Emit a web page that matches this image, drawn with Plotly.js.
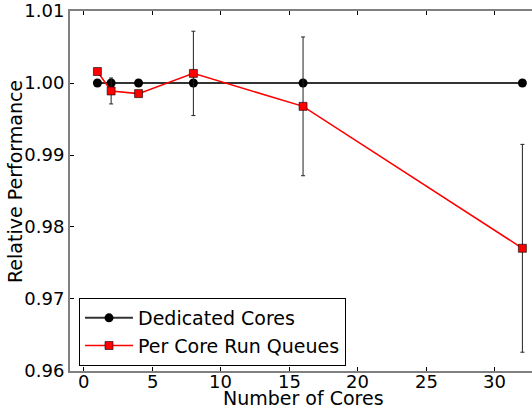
<!DOCTYPE html>
<html><head><meta charset="utf-8">
<script src="https://cdn.plot.ly/plotly-3.0.1.min.js"></script>
<style>html,body{margin:0;padding:0;background:#fff}</style>
</head><body>
<div id="chart" style="width:532px;height:411px"></div>
<script>
const cores = [1, 2, 4, 8, 16, 32];
const dedicated = [1.0, 1.0, 1.0, 1.0, 1.0, 1.0];
const dedicatedErr = [0, 0.0003, 0, 0, 0, 0];
const perCore = [1.0016, 0.9989, 0.99853, 1.00134, 0.99676, 0.97704];
const perCoreErr = [0, 0.0018, 0, 0.00586, 0.00964, 0.01444];
const yTicks = [0.96, 0.97, 0.98, 0.99, 1.00, 1.01];
const xTicks = [0, 5, 10, 15, 20, 25, 30];
const xTickLabels = ['0', '5', '10', '15', '20', '25', '30'];
const xTitle = 'Number of Cores';
const yTitle = 'Relative Performance';
const yMin = 0.95999, yMax = 1.01001;

const font = {family: 'DejaVu Sans', size: 19, color: '#000'};
const tickFont = {family: 'DejaVu Sans', size: 18, color: '#000'};

const traces = [
  {
    x: cores, y: dedicated, name: 'Dedicated Cores', type: 'scatter', mode: 'lines+markers',
    line: {color: '#333', width: 2},
    marker: {symbol: 'circle', size: 9, color: '#000'},
    error_y: {type: 'data', array: dedicatedErr, visible: true, color: '#333', thickness: 1, width: 2}
  },
  {
    x: cores, y: perCore, name: 'Per Core Run Queues', type: 'scatter', mode: 'lines+markers',
    line: {color: '#ff0000', width: 1.5},
    marker: {symbol: 'square', size: 8, color: '#ff0000', line: {color: '#000', width: 0.6}},
    error_y: {type: 'data', array: perCoreErr, visible: true, color: '#222', thickness: 1, width: 2}
  }
];

const tickAnn = xTicks.map((v, i) => ({
  text: xTickLabels[i], xref: 'x', yref: 'paper', x: v, y: 0,
  xanchor: 'center', yanchor: 'middle', yshift: -10.8, showarrow: false, font: tickFont
}));

const layout = {
  width: 532, height: 411,
  margin: {l: 70, r: 0, t: 11, b: 40},
  paper_bgcolor: '#fff', plot_bgcolor: '#fff',
  font: font,
  showlegend: true,
  legend: {
    x: 0.0195, y: 0.014, xanchor: 'left', yanchor: 'bottom',
    bordercolor: '#000', borderwidth: 1, bgcolor: '#fff',
    font: font, tracegroupgap: 0, itemwidth: 48
  },
  xaxis: {
    range: [-1, 32.7], tickvals: xTicks, showticklabels: false,
    showgrid: false, zeroline: false,
    showline: true, linecolor: '#808080', linewidth: 2, mirror: 'ticks',
    ticks: 'inside', ticklen: 4, tickcolor: '#000', tickwidth: 1,
    automargin: false
  },
  yaxis: {
    range: [yMin, yMax], tickvals: yTicks, ticktext: yTicks.map(v => v.toFixed(2)),
    showgrid: false, zeroline: false,
    showline: true, linecolor: '#808080', linewidth: 2, mirror: false,
    ticks: 'inside', ticklen: 4, tickcolor: '#000', tickwidth: 1,
    tickfont: tickFont, automargin: false, ticklabeloverflow: 'allow'
  },
  annotations: tickAnn.concat([
    {text: xTitle, xref: 'paper', yref: 'paper', x: (303 - 70) / 462, y: -(398.4 - 371) / 360,
     xanchor: 'center', yanchor: 'middle', showarrow: false, font: font},
    {text: yTitle, xref: 'paper', yref: 'paper', x: -(55 / 462), y: (371 - 182) / 360,
     xanchor: 'center', yanchor: 'middle', textangle: -90, showarrow: false, font: font}
  ])
};

Plotly.newPlot('chart', traces, layout, {displayModeBar: false, staticPlot: true});
</script>
</body></html>
